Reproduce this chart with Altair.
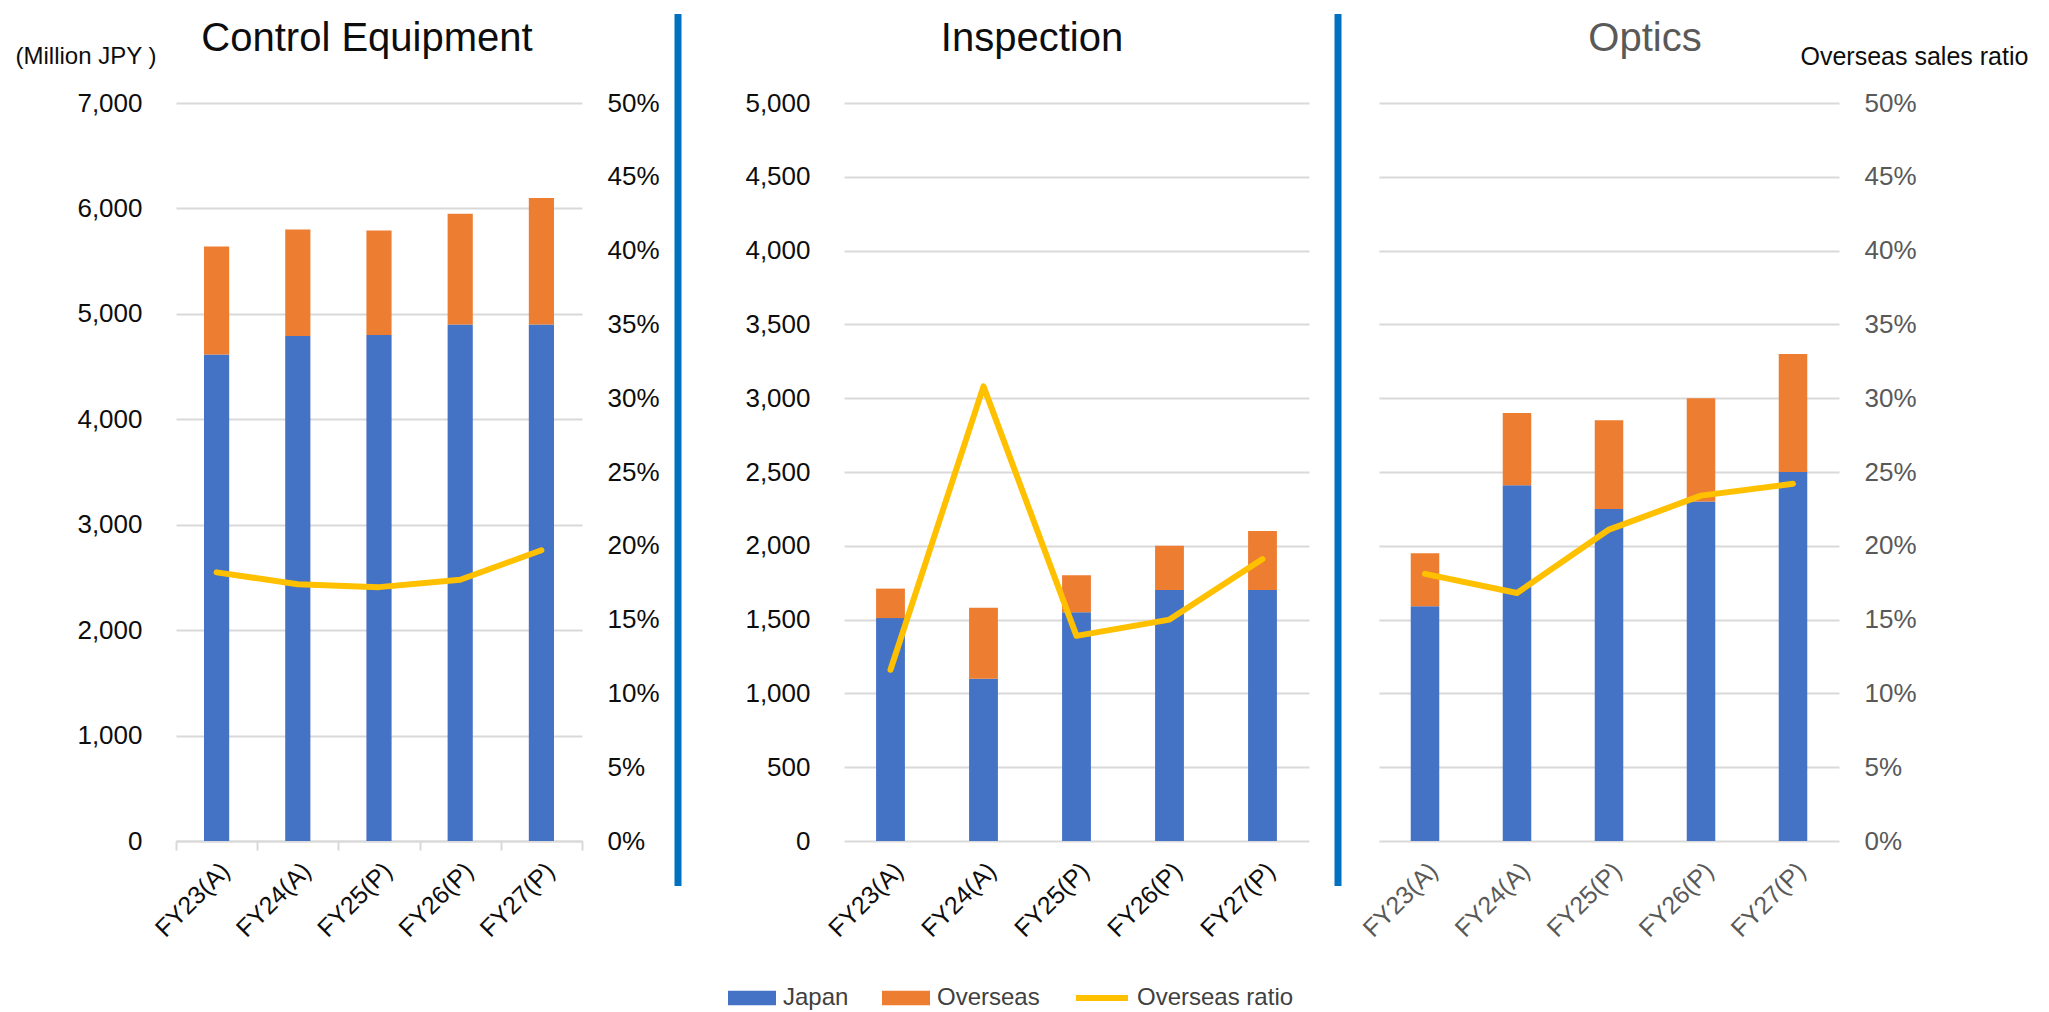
import altair as alt
import pandas as pd

# ---- data ----------------------------------------------------------------
years = ["FY23(A)", "FY24(A)", "FY25(P)", "FY26(P)", "FY27(P)"]
segments = ["Japan", "Overseas"]
ratio_series = ["Overseas ratio"]

control_japan = [4615, 4790, 4800, 4900, 4900]
control_overseas = [1025, 1010, 990, 1050, 1200]
control_ratio = [0.182, 0.174, 0.172, 0.177, 0.197]

inspection_japan = [1510, 1100, 1550, 1700, 1700]
inspection_overseas = [200, 480, 250, 300, 400]
inspection_ratio = [0.116, 0.308, 0.139, 0.150, 0.191]

optics_japan = [159, 241, 225, 230, 250]
optics_overseas = [36, 49, 60, 70, 80]
optics_ratio = [0.181, 0.168, 0.211, 0.234, 0.242]

pct_ticks = [0, 0.05, 0.10, 0.15, 0.20, 0.25, 0.30, 0.35, 0.40, 0.45, 0.50]

# ---- style ---------------------------------------------------------------
BLUE = "#4472C4"
ORANGE = "#ED7D31"
GOLD = "#FFC000"
DIVIDER = "#0070C0"
GRID = "#D9D9D9"
INK = "#0D0D0D"
GREY = "#595959"
FONT = "Liberation Sans"
PLOT_H = 738


def bar_table(japan, overseas):
    rows = []
    for i, yr in enumerate(years):
        rows.append({"year": yr, "segment": "Japan", "stack": 0, "sales": japan[i]})
        rows.append({"year": yr, "segment": "Overseas", "stack": 1, "sales": overseas[i]})
    return pd.DataFrame(rows)


def ratio_table(ratio):
    return pd.DataFrame({"year": years, "series": ratio_series * len(years), "ratio": ratio})


def x_axis(first, color):
    if first:
        return alt.Axis(labelAngle=-45, labelAlign="right", labelBaseline="top",
                        labelFontSize=25, labelColor=color, labelPadding=8,
                        domain=True, domainColor=GRID, domainWidth=2,
                        ticks=True, tickBand="extent", tickColor=GRID,
                        tickWidth=2, tickSize=9, title=None)
    return alt.Axis(labelAngle=-45, labelAlign="right", labelBaseline="top",
                    labelFontSize=25, labelColor=color, labelPadding=8,
                    domain=False, ticks=True, tickSize=9, tickOpacity=0,
                    title=None)


def panel(name, japan, overseas, ratio, width, sales_max, left_axis, right_axis,
          label_color, title_x, title_color, first=False, extra=()):
    x_enc = alt.X("year:N", sort=years, title=None,
                  scale=alt.Scale(paddingInner=0, paddingOuter=0),
                  axis=x_axis(first, label_color))

    bars = alt.Chart(bar_table(japan, overseas)).mark_bar(
        width=alt.RelativeBandSize(0.31)
    ).encode(
        x=x_enc,
        y=alt.Y("sales:Q", stack="zero", title=None,
                scale=alt.Scale(domain=[0, sales_max], nice=False),
                axis=left_axis),
        color=alt.Color("segment:N",
                        scale=alt.Scale(domain=segments, range=[BLUE, ORANGE]),
                        legend=alt.Legend(
                            orient="none", legendX=552, legendY=871,
                            direction="horizontal", title=None, padding=0,
                            symbolType="M-1,-0.3H1V0.3H-1Z", symbolSize=2304,
                            symbolStrokeWidth=0, symbolOpacity=1,
                            labelFont=FONT, labelFontSize=24, labelColor="#404040",
                            labelOffset=7, columnPadding=33)),
        order=alt.Order("stack:Q", sort="ascending"),
    )

    line = alt.Chart(ratio_table(ratio)).mark_line(
        strokeWidth=6, strokeCap="round", strokeJoin="round"
    ).encode(
        x=x_enc,
        y=alt.Y("ratio:Q", title=None,
                scale=alt.Scale(domain=[0, 0.5], nice=False),
                axis=right_axis),
        stroke=alt.Stroke("series:N",
                          scale=alt.Scale(domain=ratio_series, range=[GOLD]),
                          legend=alt.Legend(
                              orient="none", legendX=897, legendY=866,
                              direction="horizontal", title=None, padding=0,
                              symbolType="stroke", symbolSize=2704,
                              symbolStrokeWidth=6,
                              labelFont=FONT, labelFontSize=24, labelColor="#404040",
                              labelOffset=6)),
    )

    heading = alt.Chart(pd.DataFrame({"name": [name]})).mark_text(
        font=FONT, fontSize=40, color=title_color, align="center", baseline="alphabetic"
    ).encode(text="name:N", x=alt.value(title_x), y=alt.value(-52))

    return alt.layer(bars, line, heading, *extra).resolve_scale(
        y="independent"
    ).properties(width=width, height=PLOT_H)


# ---- axes ----------------------------------------------------------------
control_left = alt.Axis(values=list(range(0, 7001, 1000)), format=",.0f",
                        labelFontSize=26, labelColor=INK, labelPadding=34,
                        ticks=False, domain=False, grid=True,
                        title="(Million JPY )", titleAngle=0, titleAlign="left",
                        titleBaseline="middle", titleX=-161, titleY=-47,
                        titleFontSize=24, titleFontWeight="normal", titleColor=INK)
control_right = alt.Axis(orient="right", values=pct_ticks, format=".0%",
                         labelFontSize=26, labelColor=INK, labelPadding=25,
                         ticks=False, domain=False, grid=False, title=None)

inspection_left = alt.Axis(values=list(range(0, 5001, 500)), format=",.0f",
                           labelFontSize=26, labelColor=INK, labelPadding=34,
                           ticks=False, domain=False, grid=True, title=None)

optics_right = alt.Axis(orient="right", values=pct_ticks, format=".0%",
                        labelFontSize=26, labelColor=GREY, labelPadding=25,
                        ticks=False, domain=False, grid=True,
                        title="Overseas sales ratio", titleAngle=0, titleAlign="left",
                        titleBaseline="middle", titleX=-39, titleY=-47,
                        titleFontSize=25, titleFontWeight="normal", titleColor=INK)

# vertical dividers between the three segments
marker = pd.DataFrame({"k": [0]})
divider_left = alt.Chart(marker).mark_rule(color=DIVIDER, strokeWidth=7).encode(
    x=alt.value(-166), y=alt.value(-89), y2=alt.value(783))
divider_right = alt.Chart(marker).mark_rule(color=DIVIDER, strokeWidth=7).encode(
    x=alt.value(494), y=alt.value(-89), y2=alt.value(783))

control = panel("Control Equipment", control_japan, control_overseas, control_ratio,
                406, 7000, control_left, control_right, INK, 191, INK, first=True)
inspection = panel("Inspection", inspection_japan, inspection_overseas, inspection_ratio,
                   465, 5000, inspection_left, None, INK, 188, INK,
                   extra=(divider_left, divider_right))
optics = panel("Optics", optics_japan, optics_overseas, optics_ratio,
               460, 500, None, optics_right, GREY, 266, GREY)

right_pair = alt.hconcat(inspection, optics, spacing=70, bounds="flush")

chart = alt.hconcat(control, right_pair, spacing=262, bounds="flush").properties(
    padding={"left": 15, "top": 10, "right": 5, "bottom": 2}
).configure(
    font=FONT
).configure_view(
    stroke=None
).configure_axis(
    labelFont=FONT, titleFont=FONT, gridColor=GRID, gridWidth=2
)

chart.save("out.html", embed_options={"renderer": "svg", "actions": False})
